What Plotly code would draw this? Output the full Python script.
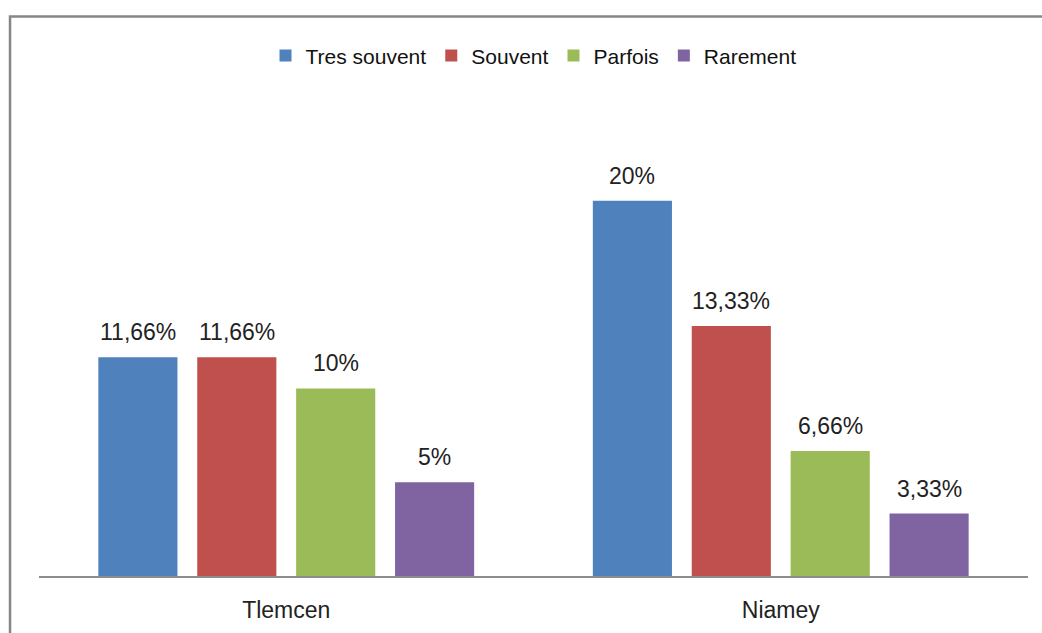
import plotly.graph_objects as go

# Chart data
cities = ["Tlemcen", "Niamey"]
series_names = ["Tres souvent", "Souvent", "Parfois", "Rarement"]
values = {
    "Tres souvent": [11.66, 20.0],
    "Souvent": [11.66, 13.33],
    "Parfois": [10.0, 6.66],
    "Rarement": [5.0, 3.33],
}
value_labels = {
    "Tres souvent": ["11,66%", "20%"],
    "Souvent": ["11,66%", "13,33%"],
    "Parfois": ["10%", "6,66%"],
    "Rarement": ["5%", "3,33%"],
}
colors = ["#4F81BD", "#C0504D", "#9BBB59", "#8064A2"]

FONT = "Liberation Sans"
BARGAP = 0.2
n_series = len(series_names)

fig = go.Figure()
for name, color in zip(series_names, colors):
    fig.add_trace(go.Bar(
        name=name,
        x=list(range(len(cities))),
        y=values[name],
        marker=dict(color=color, line=dict(width=0)),
    ))

# Value labels above each bar, centred on the bar's slot within its group
slot = (1 - BARGAP) / n_series
annotations = []
for i, name in enumerate(series_names):
    offset = -(1 - BARGAP) / 2 + slot * (i + 0.5)
    for j in range(len(cities)):
        annotations.append(dict(
            x=j + offset, y=values[name][j], xref="x", yref="y",
            text=value_labels[name][j], showarrow=False,
            yanchor="bottom", yshift=10,
            font=dict(family=FONT, size=23, color="#222222"),
        ))

# Outer chart frame
frame = dict(
    type="rect", xref="paper", yref="paper",
    x0=-0.0293, x1=1.2, y0=-0.4, y1=1.193,
    line=dict(color="#878787", width=2.5), fillcolor="rgba(0,0,0,0)",
    layer="above",
)

fig.update_layout(
    width=1042, height=633,
    margin=dict(l=39, r=14, t=107, b=57),
    paper_bgcolor="white", plot_bgcolor="white",
    barmode="group", bargap=BARGAP, bargroupgap=0.2,
    font=dict(family=FONT, size=21, color="#1a1a1a"),
    showlegend=True,
    legend=dict(
        orientation="h", x=0.5, xanchor="center", y=1.109, yanchor="middle",
        font=dict(family=FONT, size=21, color="#111111"),
        itemwidth=30, traceorder="normal",
    ),
    xaxis=dict(
        tickmode="array", tickvals=list(range(len(cities))), ticktext=cities,
        range=[-0.5, len(cities) - 0.5],
        showline=True, linecolor="#8c8c8c", linewidth=2,
        ticks="", showgrid=False, zeroline=False, automargin=False,
        tickfont=dict(family=FONT, size=23, color="#222222"),
        ticklabelstandoff=12,
    ),
    yaxis=dict(
        range=[0, 25], visible=False, showgrid=False, zeroline=False,
        automargin=False,
    ),
    annotations=annotations,
    shapes=[frame],
)

fig.write_html("out.html")
